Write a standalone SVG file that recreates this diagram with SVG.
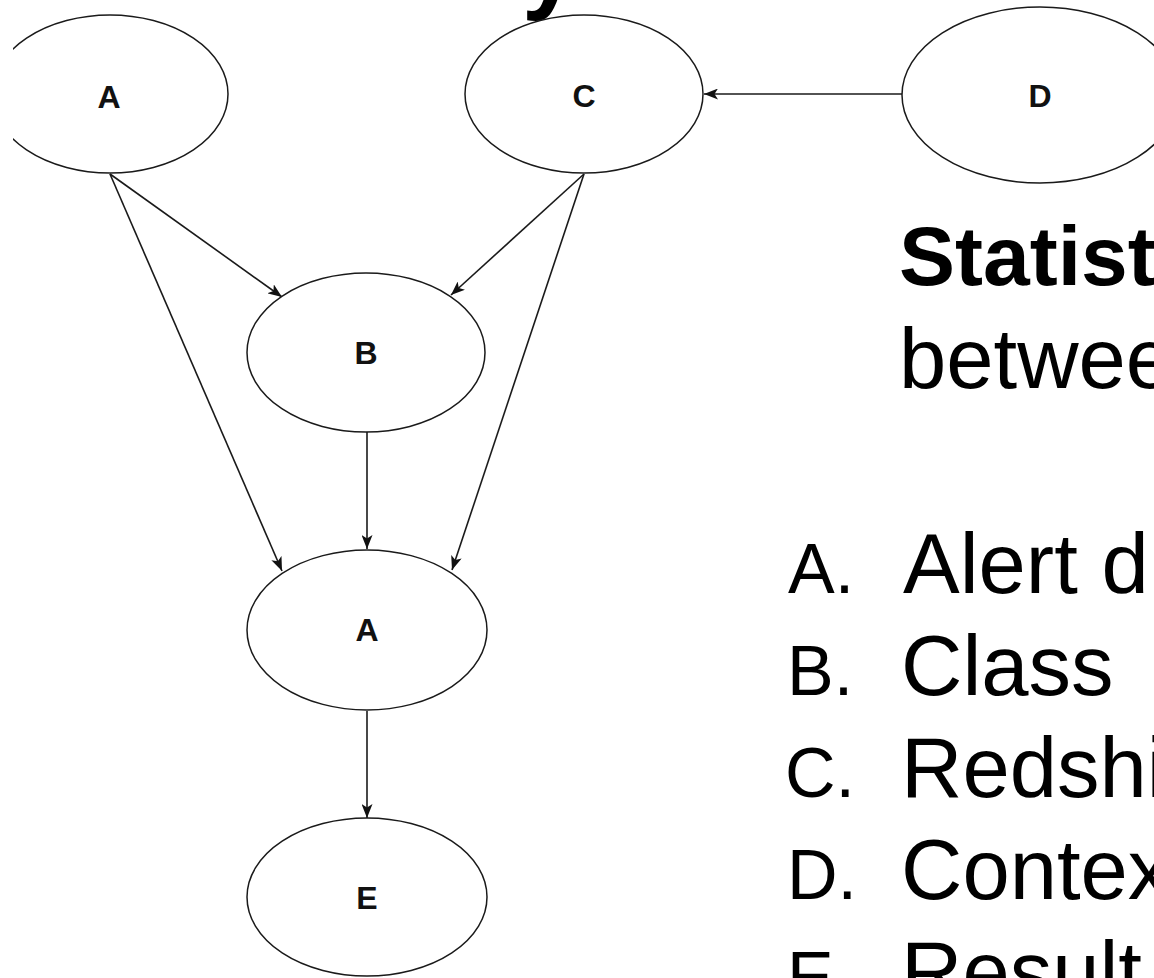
<svg xmlns="http://www.w3.org/2000/svg" width="1154" height="978" viewBox="0 0 1154 978">
  <style>
    .node ellipse { fill: #ffffff; stroke: #1a1a1a; stroke-width: 1.5; }
    .node text { font-family: "Liberation Sans", Arial, sans-serif; font-weight: bold; font-size: 32px; fill: #111; text-anchor: middle; }
    .edge { fill: none; stroke: #1a1a1a; stroke-width: 1.6; marker-end: url(#arrow); }
    .heading { font-family: "Liberation Sans", Arial, sans-serif; font-weight: bold; font-size: 84px; fill: #000; }
    .body { font-family: "Liberation Sans", Arial, sans-serif; font-size: 85px; fill: #000; }
    .label { font-family: "Liberation Sans", Arial, sans-serif; font-size: 70px; fill: #000; }
  </style>
  <defs>
    <marker id="arrow" viewBox="0 0 14 11" refX="14" refY="5.5" markerWidth="14" markerHeight="11" markerUnits="userSpaceOnUse" orient="auto">
      <path d="M0,0 L14,5.5 L0,11 L3.5,5.5 Z" fill="#111"/>
    </marker>
    <clipPath id="panel">
      <rect x="13" y="0" width="1141" height="978"/>
    </clipPath>
  </defs>

  <rect width="1154" height="978" fill="#ffffff"/>

  <!-- tail of the slide title above the panel -->
  <text class="heading" x="522" y="0" style="font-size:100px">y</text>

  <g clip-path="url(#panel)">
    <g id="connectors">
      <line class="edge" x1="902" y1="94" x2="704" y2="94"/>
      <line class="edge" x1="110" y1="174" x2="282" y2="297"/>
      <line class="edge" x1="110" y1="174" x2="282" y2="571"/>
      <line class="edge" x1="584" y1="174" x2="451" y2="295"/>
      <line class="edge" x1="584" y1="174" x2="452" y2="570"/>
      <line class="edge" x1="367" y1="432" x2="367" y2="549"/>
      <line class="edge" x1="367" y1="711" x2="367" y2="818"/>
    </g>

    <g id="node-a-top" class="node">
      <ellipse cx="110" cy="94" rx="118" ry="79"/>
      <text x="109" y="108">A</text>
    </g>
    <g id="node-c" class="node">
      <ellipse cx="584" cy="94" rx="119" ry="79"/>
      <text x="584" y="107">C</text>
    </g>
    <g id="node-d" class="node">
      <ellipse cx="1040" cy="95" rx="138" ry="88"/>
      <text x="1040" y="107">D</text>
    </g>
    <g id="node-b" class="node">
      <ellipse cx="366" cy="352.5" rx="119" ry="79.5"/>
      <text x="366" y="364">B</text>
    </g>
    <g id="node-a-mid" class="node">
      <ellipse cx="367" cy="630" rx="120" ry="80"/>
      <text x="367" y="641">A</text>
    </g>
    <g id="node-e" class="node">
      <ellipse cx="367" cy="897" rx="120" ry="79"/>
      <text x="367" y="909">E</text>
    </g>
  </g>

  <!-- text column -->
  <text class="heading" x="899" y="285">Statist</text>
  <text class="body" x="899" y="388">betwee</text>

  <text class="label" x="788" y="593">A.</text>
  <text class="body" x="903" y="593">Alert d</text>
  <text class="label" x="787" y="695">B.</text>
  <text class="body" x="901" y="695">Class</text>
  <text class="label" x="785" y="797">C.</text>
  <text class="body" x="901" y="797">Redshi</text>
  <text class="label" x="787" y="899">D.</text>
  <text class="body" x="901" y="899">Contex</text>
  <text class="label" x="787" y="1001">E.</text>
  <text class="body" x="901" y="1001">Result</text>
</svg>
